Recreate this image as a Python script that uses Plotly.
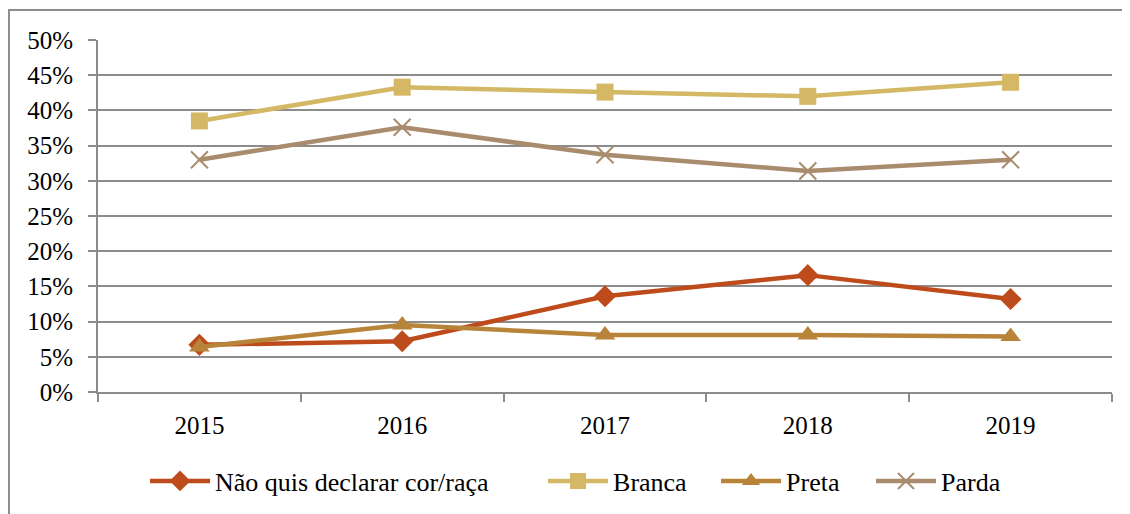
import plotly.graph_objects as go

years = ["2015", "2016", "2017", "2018", "2019"]
nao_quis = [0.067, 0.072, 0.136, 0.166, 0.132]
branca = [0.385, 0.433, 0.426, 0.420, 0.440]
preta = [0.064, 0.095, 0.081, 0.081, 0.079]
parda = [0.330, 0.376, 0.337, 0.314, 0.330]

# name, values, colour, marker, marker size, legend id, legend x
series = [
    ("Não quis declarar cor/raça", nao_quis, "#BE4B1C", "diamond", 17, "legend", 0.0464),
    ("Branca", branca, "#D4B865", "square", 17, "legend2", 0.4389),
    ("Preta", preta, "#B8843A", "triangle-up", 18, "legend3", 0.6095),
    ("Parda", parda, "#A98C6E", "x-thin", 17, "legend4", 0.7623),
]

font_family = "Liberation Serif"

fig = go.Figure()
legends = {}
for name, vals, color, symbol, size, leg, lx in series:
    marker = dict(symbol=symbol, size=size, color=color)
    if symbol == "x-thin":
        marker["line"] = dict(color=color, width=2)
    fig.add_trace(
        go.Scatter(
            x=years,
            y=vals,
            name=name,
            mode="lines+markers",
            line=dict(color=color, width=4.5),
            marker=marker,
            legend=leg,
        )
    )
    legends[leg] = dict(
        orientation="h",
        x=lx,
        xanchor="left",
        y=-0.253,
        yanchor="middle",
        font=dict(family=font_family, size=26, color="black"),
        itemwidth=60,
        bgcolor="rgba(0,0,0,0)",
    )

fig.update_layout(
    width=1130,
    height=514,
    plot_bgcolor="white",
    paper_bgcolor="white",
    margin=dict(l=90, r=26, t=32, b=130),
    font=dict(family=font_family, size=25, color="black"),
    showlegend=True,
    shapes=[
        dict(
            type="rect",
            xref="paper",
            yref="paper",
            x0=-0.0878,
            x1=1.06,
            y0=-0.45,
            y1=1.085,
            line=dict(color="#8c8c8c", width=2),
        )
    ],
    **legends,
)

fig.update_xaxes(
    showgrid=False,
    showline=True,
    linecolor="#8c8c8c",
    linewidth=2,
    ticks="outside",
    tickson="boundaries",
    ticklen=8,
    tickcolor="#8c8c8c",
    tickwidth=2,
    range=[-0.5, 4.5],
    ticklabelstandoff=10,
    tickfont=dict(family=font_family, size=25),
)

fig.update_yaxes(
    range=[0, 0.5],
    dtick=0.05,
    tickformat=".0%",
    showgrid=True,
    gridcolor="#8c8c8c",
    gridwidth=2,
    showline=True,
    linecolor="#8c8c8c",
    linewidth=2,
    ticks="outside",
    ticklen=8,
    tickcolor="#8c8c8c",
    tickwidth=2,
    zeroline=False,
    ticklabelstandoff=10,
    tickfont=dict(family=font_family, size=25),
)

fig.write_html("out.html")
